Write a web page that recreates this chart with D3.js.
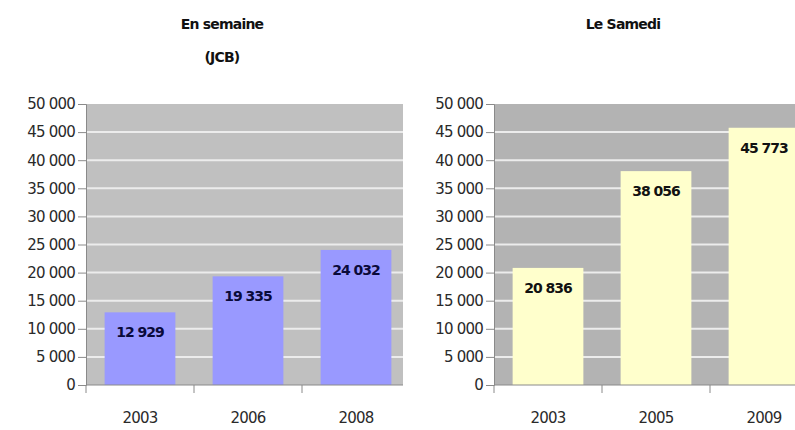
<!DOCTYPE html>
<html>
<head>
<meta charset="utf-8">
<script src="https://cdn.jsdelivr.net/npm/d3@7"></script>
<style>
  html, body { margin: 0; padding: 0; background: #ffffff; }
  svg { display: block; }
  text { font-family: "DejaVu Sans", Verdana, sans-serif; }
</style>
</head>
<body>
<svg id="chart" width="795" height="430"></svg>
<script>
// Fréquentation : semaine vs samedi
const weekdayYears = ["2003", "2006", "2008"];
const weekdayValues = [12929, 19335, 24032];
const saturdayYears = ["2003", "2005", "2009"];
const saturdayValues = [20836, 38056, 45773];
const yTicks = [0, 5000, 10000, 15000, 20000, 25000, 30000, 35000, 40000, 45000, 50000];

const svg = d3.select("#chart");
const fmt = v => d3.format(",")(v).replace(/,/g, " ");

function panel(cfg) {
  const g = svg.append("g");
  const y = d3.scaleLinear().domain([0, 50000]).range([385, 104]);
  const x = d3.scaleBand().domain(cfg.years)
    .range([cfg.left, cfg.left + 324]).paddingInner(0.345).paddingOuter(0.1725);

  const clipId = "clip-" + cfg.id;
  svg.append("clipPath").attr("id", clipId)
    .append("rect").attr("x", cfg.left).attr("y", 100)
    .attr("width", cfg.clipRight - cfg.left).attr("height", 290);

  const plot = g.append("g").attr("clip-path", `url(#${clipId})`);
  plot.append("rect")
    .attr("x", cfg.left).attr("y", y(50000))
    .attr("width", 324).attr("height", y(0) - y(50000))
    .attr("fill", cfg.bg);

  plot.selectAll("line.grid").data(yTicks.filter(t => t > 0 && t < 50000))
    .join("line").attr("class", "grid")
    .attr("x1", cfg.left).attr("x2", cfg.left + 324)
    .attr("y1", d => y(d)).attr("y2", d => y(d))
    .attr("stroke", "#ececec").attr("stroke-width", 2);

  plot.selectAll("rect.bar").data(cfg.values)
    .join("rect").attr("class", "bar")
    .attr("x", (d, i) => x(cfg.years[i]))
    .attr("y", d => y(d))
    .attr("width", x.bandwidth())
    .attr("height", d => y(0) - y(d))
    .attr("fill", cfg.barColor);

  plot.selectAll("text.val").data(cfg.values)
    .join("text").attr("class", "val")
    .attr("x", (d, i) => x(cfg.years[i]) + x.bandwidth() / 2)
    .attr("y", d => y(d) + 25)
    .attr("text-anchor", "middle")
    .attr("font-size", 14).attr("font-weight", "bold")
    .attr("letter-spacing", -1)
    .attr("fill", cfg.labelColor)
    .text(d => fmt(d));

  // Y axis
  const yAxis = g.append("g").attr("transform", `translate(${cfg.left},0)`)
    .call(d3.axisLeft(y).tickValues(yTicks).tickSize(8).tickPadding(3).tickFormat(fmt));
  yAxis.select(".domain").attr("stroke", "#8a8a8a");
  yAxis.selectAll(".tick line").attr("stroke", "#8a8a8a");
  yAxis.selectAll(".tick text")
    .attr("font-size", 15).attr("letter-spacing", -0.8)
    .attr("font-family", "DejaVu Sans, sans-serif").attr("fill", "#2a2a2a");

  // X axis with ticks on category boundaries
  const xAxis = g.append("g").attr("transform", `translate(0,${y(0)})`);
  xAxis.append("line").attr("x1", cfg.left).attr("x2", cfg.clipRight)
    .attr("stroke", "#8a8a8a");
  const bounds = d3.range(cfg.years.length + 1).map(i => cfg.left + i * x.step());
  xAxis.selectAll("line.tk").data(bounds.filter(b => b <= cfg.clipRight))
    .join("line").attr("class", "tk")
    .attr("x1", d => d).attr("x2", d => d).attr("y1", 0).attr("y2", 8)
    .attr("stroke", "#8a8a8a");
  xAxis.selectAll("text").data(cfg.years)
    .join("text")
    .attr("x", d => x(d) + x.bandwidth() / 2)
    .attr("y", 38)
    .attr("text-anchor", "middle")
    .attr("font-size", 15).attr("letter-spacing", -0.8)
    .attr("fill", "#2a2a2a")
    .text(d => d);

  // Title
  const t = g.append("text")
    .attr("x", cfg.titleX).attr("y", 29)
    .attr("text-anchor", "middle")
    .attr("font-size", 14).attr("font-weight", "bold")
    .attr("letter-spacing", -0.8).attr("fill", "#111");
  cfg.title.forEach((line, i) => {
    t.append("tspan").attr("x", cfg.titleX).attr("dy", i === 0 ? 0 : 33).text(line);
  });
}

panel({
  id: "semaine", left: 86, clipRight: 403,
  years: weekdayYears, values: weekdayValues,
  bg: "#c0c0c0", barColor: "#9999ff", labelColor: "#0a0a3a",
  title: ["En semaine", "(JCB)"], titleX: 222
});

panel({
  id: "samedi", left: 494, clipRight: 795,
  years: saturdayYears, values: saturdayValues,
  bg: "#b3b3b3", barColor: "#ffffcc", labelColor: "#111111",
  title: ["Le Samedi"], titleX: 623
});
</script>
</body>
</html>
